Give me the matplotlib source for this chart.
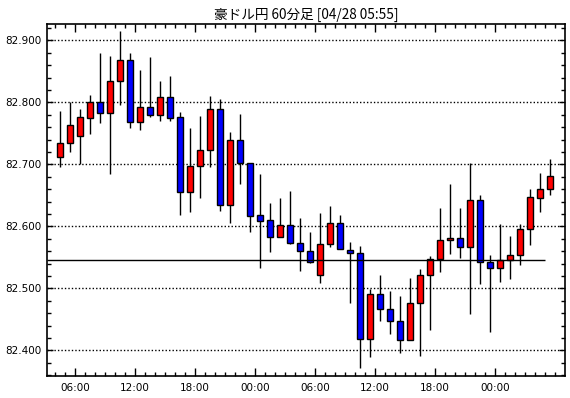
# AUD/JPY hourly candles
import numpy as np
import matplotlib.pyplot as plt

title = '豪ドル円 60分足 [04/28 05:55]'

opens = [82.712, 82.734, 82.746, 82.774, 82.800, 82.782, 82.834, 82.868, 82.769, 82.792,
         82.780, 82.808, 82.776, 82.656, 82.698, 82.723, 82.790, 82.635, 82.739, 82.702,
         82.618, 82.610, 82.582, 82.602, 82.573, 82.560, 82.521, 82.571, 82.606, 82.561,
         82.557, 82.418, 82.491, 82.467, 82.448, 82.416, 82.476, 82.521, 82.547, 82.578,
         82.581, 82.566, 82.642, 82.543, 82.533, 82.545, 82.554, 82.596, 82.646, 82.660]
highs = [82.786, 82.800, 82.790, 82.811, 82.880, 82.875, 82.915, 82.880, 82.852, 82.873,
         82.834, 82.842, 82.784, 82.758, 82.778, 82.810, 82.806, 82.752, 82.781, 82.702,
         82.684, 82.637, 82.646, 82.657, 82.613, 82.591, 82.622, 82.633, 82.618, 82.575,
         82.568, 82.499, 82.522, 82.496, 82.488, 82.516, 82.531, 82.552, 82.629, 82.668,
         82.630, 82.702, 82.651, 82.553, 82.603, 82.585, 82.604, 82.660, 82.686, 82.709]
lows = [82.696, 82.720, 82.700, 82.749, 82.766, 82.685, 82.796, 82.758, 82.756, 82.777,
        82.770, 82.770, 82.619, 82.623, 82.645, 82.696, 82.625, 82.606, 82.669, 82.591,
        82.533, 82.559, 82.582, 82.571, 82.528, 82.541, 82.508, 82.567, 82.563, 82.476,
        82.372, 82.389, 82.447, 82.426, 82.395, 82.416, 82.391, 82.433, 82.526, 82.555,
        82.549, 82.458, 82.507, 82.429, 82.510, 82.515, 82.538, 82.570, 82.623, 82.650]
closes = [82.734, 82.763, 82.776, 82.800, 82.782, 82.834, 82.868, 82.769, 82.792, 82.780,
          82.808, 82.775, 82.656, 82.698, 82.723, 82.790, 82.635, 82.739, 82.702, 82.617,
          82.608, 82.582, 82.602, 82.573, 82.560, 82.543, 82.571, 82.606, 82.563, 82.557,
          82.418, 82.491, 82.467, 82.448, 82.416, 82.476, 82.521, 82.547, 82.578, 82.581,
          82.566, 82.642, 82.543, 82.532, 82.545, 82.554, 82.596, 82.647, 82.660, 82.681]

time_labels = ['06:00', '12:00', '18:00', '00:00', '06:00', '12:00', '18:00', '00:00']
first_label_pos = 1.5
ref_level = 82.545
ref_end = 48.5

o = np.array(opens)
h = np.array(highs)
l = np.array(lows)
c = np.array(closes)
x = np.arange(len(o))

fig = plt.figure(figsize=(5.7, 3.98), dpi=100)
ax = fig.add_axes([0.0825, 0.0553, 0.9085, 0.8844])

# wicks then bodies
ax.vlines(x, l, h, color='black', linewidth=1, zorder=2)
colors = np.where(c >= o, '#ff0000', '#0000ff')
bottoms = np.minimum(o, c)
heights = np.maximum(np.abs(c - o), 0.002)
ax.bar(x, heights, bottom=bottoms, width=0.6, color=colors,
       edgecolor='black', linewidth=1, zorder=3)

ax.hlines(ref_level, -1.3, ref_end, color='black', linewidth=1, zorder=4)

ax.set_xlim(-1.3, 50.5)
ax.set_ylim(82.3586, 82.9263)

ax.set_yticks(np.arange(82.4, 82.95, 0.1))
ax.set_yticklabels(['%.3f' % v for v in np.arange(82.4, 82.95, 0.1)])
ax.set_yticks(np.arange(82.36, 82.93, 0.02), minor=True)
ax.set_xticks([first_label_pos + 6 * k for k in range(len(time_labels))])
ax.set_xticklabels(time_labels)
ax.set_xticks(np.arange(-0.5, 50.5, 1), minor=True)

ax.grid(axis='y', which='major', color='black', linestyle=(0, (1, 1.5)), linewidth=1)
ax.tick_params(axis='both', which='both', direction='in', top=True, right=True,
               labelsize=7.5, color='black', width=1)
ax.tick_params(axis='x', which='major', length=6, pad=5)
ax.tick_params(axis='x', which='minor', length=3)
ax.tick_params(axis='y', which='major', length=4, pad=4)
ax.tick_params(axis='y', which='minor', length=3)
for s in ax.spines.values():
    s.set_linewidth(1.2)

ax.set_title(title, fontsize=9.8, family=['Noto Sans CJK JP', 'DejaVu Sans'], pad=4)

fig.savefig('out.png', dpi=100)
